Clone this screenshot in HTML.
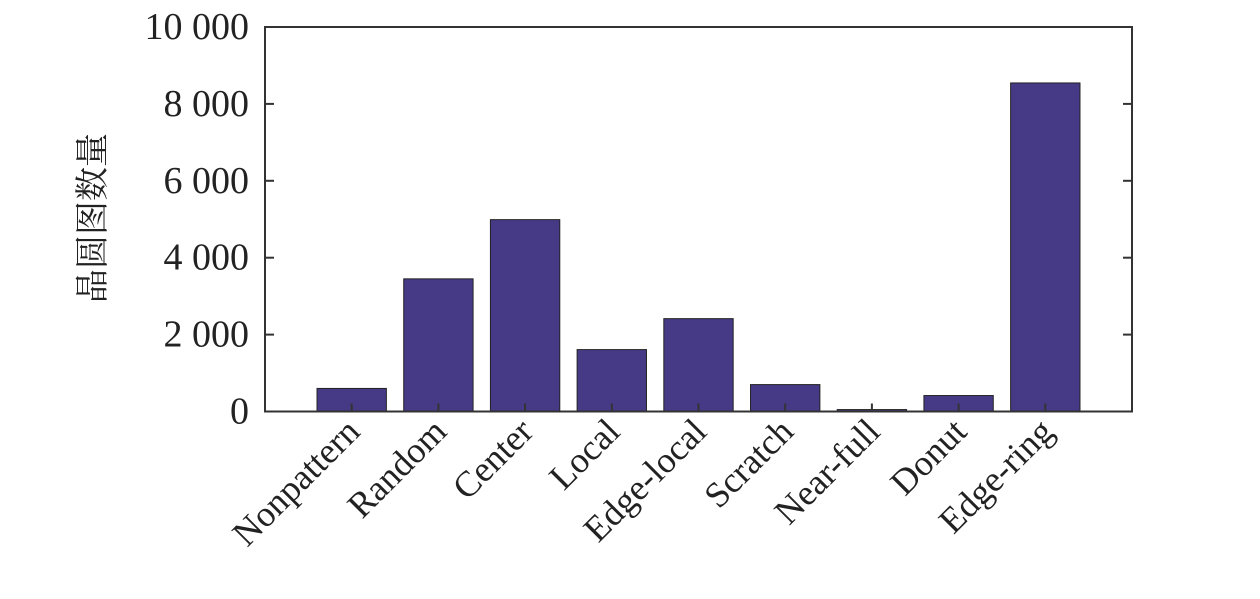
<!DOCTYPE html>
<html><head><meta charset="utf-8"><style>
body{margin:0;background:#fff}
svg text{font-family:"Liberation Serif","Noto Serif CJK SC",serif;fill:#222}
</style></head><body>
<svg width="1260" height="594" viewBox="0 0 1260 594">
<g id="plot"></g>
<text transform="translate(104,218) rotate(-90)" text-anchor="middle" font-size="34">晶圆图数量</text>
</svg>
<script>
const categories=["Nonpattern","Random","Center","Local","Edge-local","Scratch","Near-full","Donut","Edge-ring"];
const counts=[600,3450,4990,1610,2415,700,50,415,8545];
const yTicks=[0,2000,4000,6000,8000,10000];
const yTickLabels=["0","2 000","4 000","6 000","8 000","10 000"];
const L=265,R=1132,T=27,B=411.5,ns="http://www.w3.org/2000/svg";
const x=i=>L+(i+1)*(R-L)/(categories.length+1);
const y=v=>B-(v/10000)*(B-T);
const bw=0.8*(R-L)/(categories.length+1);
const g=document.getElementById('plot');
function mk(t,a){const e=document.createElementNS(ns,t);for(const k in a)e.setAttribute(k,a[k]);g.appendChild(e);return e;}
categories.forEach((c,i)=>{
 const r=mk('rect',{x:x(i)-bw/2,y:y(counts[i]),width:bw,height:B-y(counts[i]),fill:'#463a86',stroke:'#222','stroke-width':1});
 
 
 const t=mk('line',{x1:x(i),x2:x(i),y1:B,y2:B-8,stroke:'#333','stroke-width':2});
 
 
 const tx=mk('text',{transform:`translate(${x(i)+10},${B+22}) rotate(-45)`,'text-anchor':'end','font-size':36});
 tx.textContent=c;
 
 
});
yTicks.forEach((v,i)=>{
 const a=mk('line',{x1:L,x2:L+9,y1:y(v),y2:y(v),stroke:'#333','stroke-width':2});
 
 
 const b=mk('line',{x1:R,x2:R-9,y1:y(v),y2:y(v),stroke:'#333','stroke-width':2});
 
 
 const t=mk('text',{x:L-16,y:y(v)+12,'text-anchor':'end','font-size':38});
 t.textContent=yTickLabels[i];
 
 
});
const box=mk('rect',{x:L,y:T,width:R-L,height:B-T,fill:'none',stroke:'#333','stroke-width':2});


</script>
</body></html>
